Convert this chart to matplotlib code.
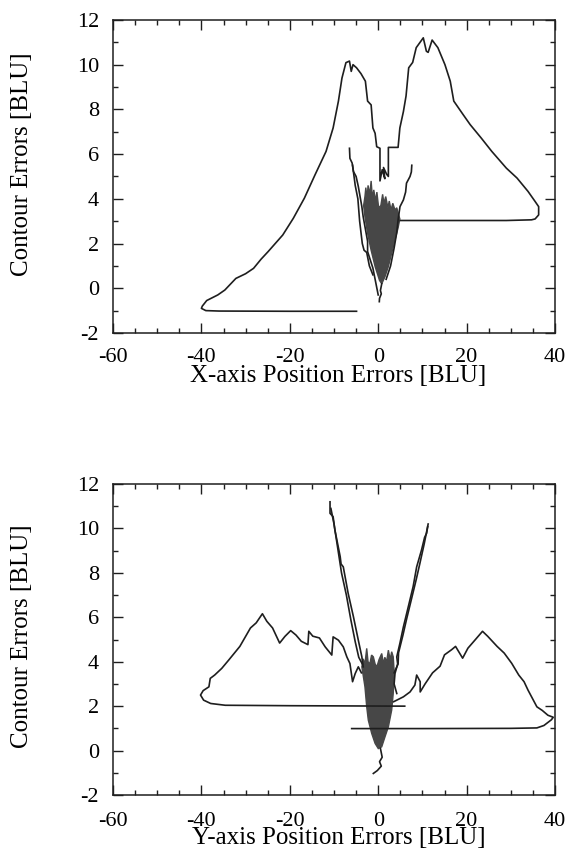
import matplotlib
matplotlib.use('Agg')
import matplotlib.pyplot as plt
from matplotlib.ticker import MultipleLocator

plt.rcParams['font.family'] = ['Liberation Serif', 'DejaVu Serif']
plt.rcParams['axes.unicode_minus'] = False

# ---- top panel: X-axis position error vs contour error ----
top_hill_x = [-4.9, -20, -36, -39.0, -40.0, -39.8, -38.8, -36.3, -34.7, -32.2, -30, -28.2, -26.5,
              -24.9, -21.6, -19.2, -16.7, -14.3, -11.8, -10.2, -9.0, -8.2, -7.3, -6.5, -6.1, -5.7,
              -4.9, -3.9, -2.9, -2.4, -1.6, -1.2, -0.7, -0.34, 0.4, 0.4, 0.9, 1.5, 1.2, 1.9, 2.3,
              2.3, 4.5, 4.9, 5.7, 6.3, 6.9, 7.8, 8.6, 9.4, 10.2, 10.9, 11.3, 12.2, 13.5, 15.1, 16.3,
              17.1, 19.2, 20.8, 23.3, 25.7, 29.0, 31.4, 33.9, 35.5, 36.3, 36.3, 35.5, 34.7, 29.0, 5.0]
top_hill_y = [-1.03, -1.03, -1.02, -1.0, -0.9, -0.8, -0.55, -0.3, -0.08, 0.44, 0.65, 0.89, 1.3,
              1.64, 2.38, 3.13, 4.03, 5.07, 6.12, 7.17, 8.37, 9.4, 10.09, 10.16, 9.7, 10.0,
              9.86, 9.6, 9.26, 8.37, 8.2, 7.17, 6.93, 6.33, 6.26, 4.8, 5.3, 4.9, 5.4, 5.1, 5.0,
              6.3, 6.3, 7.17, 7.9, 8.6, 9.86, 10.1, 10.76, 10.98, 11.2, 10.6, 10.55, 11.1, 10.76, 10.0, 9.26,
              8.37, 7.77, 7.32, 6.72, 6.12, 5.37, 4.93, 4.33, 3.88, 3.65, 3.28, 3.1, 3.06, 3.03, 3.03]

top_wing_l_x = [-6.5, -6.4, -5.9, -5.6, -5.0, -4.5, -4.1, -3.7, -3.4, -3.0, -2.4, -2.4, -1.2, 0.0]
top_wing_l_y = [6.26, 5.81, 5.6, 5.22, 5.0, 4.55, 4.1, 3.65, 3.2, 2.76, 2.1, 1.64, 0.9, -0.3]
top_wing_l2_x = [-5.8, -5.2, -4.6, -4.2, -3.6, -3.2, -2.6, -2.0, -1.2]
top_wing_l2_y = [5.5, 4.6, 4.0, 3.0, 2.0, 1.7, 1.6, 1.0, 0.6]
top_wing_r_x = [7.6, 7.5, 7.2, 6.4, 6.2, 5.7, 4.93, 4.5, 4.2, 3.6, 2.8, 1.8]
top_wing_r_y = [5.5, 5.2, 5.0, 4.7, 4.3, 3.95, 3.65, 3.06, 2.5, 1.8, 1.0, 0.4]

top_blob_x = [-3.0, -2.8, -2.5, -2.3, -1.9, -1.6, -1.3, -1.0, -0.6, -0.3, 0.1, 0.6, 1.0, 1.3, 1.7,
              2.2, 2.5, 2.9, 3.3, 3.8, 4.2, 4.6, 4.9, 4.5, 3.8, 3.05, 2.3, 1.54, 0.8, 0.3, -0.7,
              -1.6, -2.4, -3.0, -3.3]
top_blob_y = [4.1, 4.5, 4.0, 4.6, 4.2, 4.8, 4.0, 4.4, 3.9, 4.3, 3.6, 3.7, 4.2, 3.8, 4.1,
              3.6, 3.9, 3.5, 3.8, 3.5, 3.6, 3.3, 3.1, 2.7, 2.16, 1.57, 0.97, 0.52, 0.2, 0.35, 0.97,
              1.7, 2.46, 3.2, 3.7]
top_tail_x = [0.8, 0.5, 0.7, 0.3, 0.25]
top_tail_y = [0.2, -0.1, -0.25, -0.45, -0.6]

# ---- bottom panel: Y-axis position error vs contour error ----
bot_left_x = [6.0, -20, -34.6, -37.9, -39.5, -40.2, -39.6, -38.3, -38.0, -37.0, -35.4, -33.8,
              -31.3, -28.9, -27.6, -26.2, -25.2, -23.9, -22.3, -21.1, -19.8, -18.6, -17.4, -15.9,
              -15.7, -14.8, -13.3, -12.0, -10.5, -10.2, -9.0, -7.9, -7.1, -6.4, -5.8, -5.2, -4.5, -3.8]
bot_left_y = [2.0, 2.02, 2.04, 2.12, 2.27, 2.5, 2.7, 2.87, 3.25, 3.4, 3.7, 4.08,
              4.69, 5.52, 5.75, 6.16, 5.82, 5.52, 4.84, 5.14, 5.4, 5.2, 4.92, 4.77,
              5.37, 5.15, 5.07, 4.67, 4.3, 5.12, 4.97, 4.67, 4.22, 3.92, 3.1, 3.47, 3.77, 3.5]
bot_right_x = [-6.0, 10, 30, 35.9, 37.5, 39.2, 39.6, 38.4, 37.1, 35.9, 35.1, 33.9, 33.0, 31.8,
               30.2, 28.5, 26.9, 24.8, 23.6, 22.0, 20.3, 19.1, 17.5, 16.6, 15.0, 14.0, 12.3,
               10.6, 9.5, 9.5, 8.7, 8.3, 7.2, 5.7, 4.2, 3.5]
bot_right_y = [0.99, 0.99, 1.0, 1.02, 1.13, 1.39, 1.5, 1.59, 1.81, 1.97, 2.27, 2.72, 3.1, 3.4,
               3.93, 4.39, 4.69, 5.14, 5.37, 5.0, 4.61, 4.16, 4.69, 4.54, 4.31, 3.8, 3.5,
               3.0, 2.64, 3.1, 3.4, 2.95, 2.64, 2.42, 2.27, 2.2]

bot_vl1_x = [-10.9, -10.9, -10.2, -9.8, -8.6, -8.4, -7.9, -6.8, -5.6, -4.5, -3.7, -3.4]
bot_vl1_y = [11.2, 10.68, 10.53, 9.93, 8.73, 8.4, 8.27, 7.08, 6.02, 4.97, 4.22, 3.77]
bot_vl2_x = [-10.7, -10.0, -9.3, -8.3, -7.2, -6.2, -5.2, -4.4, -3.6]
bot_vl2_y = [10.9, 10.2, 9.3, 8.0, 7.0, 5.9, 4.9, 4.2, 3.9]
bot_vr1_x = [11.2, 10.95, 10.5, 9.8, 8.7, 7.9, 6.8, 5.7, 4.9, 4.2, 4.4, 3.8, 3.6, 4.2]
bot_vr1_y = [10.08, 9.78, 9.6, 9.03, 8.27, 7.38, 6.47, 5.57, 4.82, 4.22, 3.9, 3.47, 3.0, 2.57]
bot_vr2_x = [11.3, 10.4, 9.4, 8.6, 7.5, 6.4, 5.6, 4.6, 4.5, 3.6]
bot_vr2_y = [10.2, 9.3, 8.4, 7.7, 6.8, 5.9, 5.2, 4.4, 3.9, 3.5]

bot_blob_x = [-3.7, -3.4, -3.0, -2.6, -2.3, -1.9, -1.5, -1.1, -0.7, -0.3, 0.2, 0.8, 1.2, 1.5, 1.9,
              2.3, 2.7, 3.05, 3.4, 3.64, 3.4, 3.05, 2.3, 1.54, 0.8, 0.02, -0.7, -1.47, -2.24, -2.6, -3.0]
bot_blob_y = [3.77, 4.13, 3.9, 4.6, 4.0, 3.9, 4.3, 4.22, 3.9, 3.77, 4.1, 4.37, 3.9, 4.2, 4.0,
              4.52, 4.1, 4.45, 4.22, 3.47, 2.57, 1.82, 1.07, 0.62, 0.17, 0.09, 0.32, 0.77, 1.37, 1.97, 2.87]
bot_tail_x = [0.5, 0.9, 0.3, 0.7, -0.2, -1.1]
bot_tail_y = [0.1, -0.3, -0.5, -0.7, -0.9, -1.03]

xticks = [-60, -40, -20, 0, 20, 40]
yticks = [-2, 0, 2, 4, 6, 8, 10, 12]

INK = '#1e1e1e'
BLOB = '#474747'


def style_axes(ax, xlabel, tickpad, ylab_y):
    ax.set_xlim(-60, 40)
    ax.set_ylim(-2, 12)
    ax.set_xticks(xticks)
    ax.set_yticks(yticks)
    ax.xaxis.set_minor_locator(MultipleLocator(5))
    ax.yaxis.set_minor_locator(MultipleLocator(1))
    ax.tick_params(which='both', direction='in', top=True, right=True, width=1.0, color=INK)
    ax.tick_params(which='major', length=7, labelsize=16)
    ax.tick_params(which='minor', length=3.5)
    ax.tick_params(axis='y', pad=10)
    ax.tick_params(axis='x', pad=tickpad)
    for s in ax.spines.values():
        s.set_linewidth(1.1)
        s.set_color(INK)
    ax.set_xlabel(xlabel, fontsize=18, va='baseline')
    ax.set_ylabel('Contour Errors [BLU]', fontsize=18)
    ax.xaxis.set_label_coords(0.51, -0.157)
    ax.yaxis.set_label_coords(-0.18, ylab_y)


fig = plt.figure(figsize=(5.69, 8.52), dpi=100)

ax1 = fig.add_axes([0.1986, 0.6092, 0.7768, 0.3674])
ax1.fill(top_blob_x, top_blob_y, color=BLOB, lw=1.0)
for xs, ys in [(top_hill_x, top_hill_y), (top_wing_l_x, top_wing_l_y), (top_wing_l2_x, top_wing_l2_y),
               (top_wing_r_x, top_wing_r_y), (top_tail_x, top_tail_y)]:
    ax1.plot(xs, ys, color=INK, lw=1.2)
style_axes(ax1, 'X-axis Position Errors [BLU]', 11, 0.54)

ax2 = fig.add_axes([0.1986, 0.0669, 0.7768, 0.365])
ax2.fill(bot_blob_x, bot_blob_y, color=BLOB, lw=1.0)
for xs, ys in [(bot_left_x, bot_left_y), (bot_right_x, bot_right_y), (bot_vl1_x, bot_vl1_y),
               (bot_vl2_x, bot_vl2_y), (bot_vr1_x, bot_vr1_y), (bot_vr2_x, bot_vr2_y),
               (bot_tail_x, bot_tail_y)]:
    ax2.plot(xs, ys, color=INK, lw=1.2)
style_axes(ax2, 'Y-axis Position Errors [BLU]', 12, 0.51)

fig.savefig('out.png', dpi=100)
